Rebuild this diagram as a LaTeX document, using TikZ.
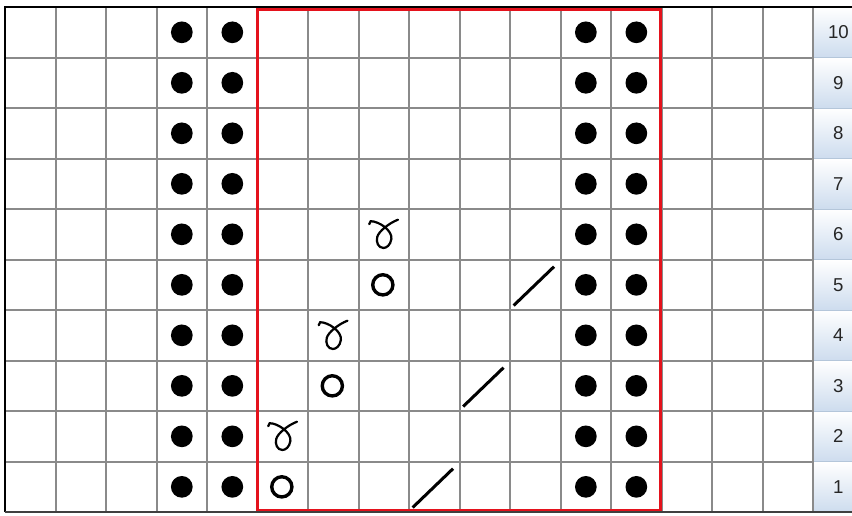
\documentclass[tikz,border=0pt]{standalone}
\usepackage{fontspec}
\newfontfamily\rowfont{Liberation Sans}
\definecolor{gridgray}{RGB}{138,138,138}
\definecolor{chartred}{RGB}{228,18,28}
\definecolor{btnblue}{RGB}{205,220,238}
\definecolor{btnline}{RGB}{180,198,218}

\begin{document}
\begin{tikzpicture}[
    gridline/.style={gridgray, line width=1.1pt},
    yarnover/.style={black, line width=1.9pt},
    twistloop/.style={black, line width=1.25pt, line cap=round},
    k2tog/.style={black, line width=1.7pt},
    rowlabel/.style={font=\rowfont\fontsize{10.5}{12}\selectfont, text=black!85}
]
        \useasboundingbox (-0.1,-0.06) rectangle (16.77,10.14);

        % Row buttons
        \foreach \r in {1,...,10} {
            \shade[top color=white, bottom color=btnblue] (16,\r-1) rectangle (16.77,\r);
            \draw[btnline, line width=0.6pt] (16,\r-1) -- (16.77,\r-1);
            \node[rowlabel] (row\r) at (16.5,\r-0.5) {\r};
        }

        % Grid
        \draw[gridline, step=1] (0,0) grid (16,10);

        % Purl stitches
        \foreach \c in {3.5,4.5,11.5,12.5}
            \foreach \r in {0.5,1.5,...,9.5}
                \fill[black] (\c,\r) circle (0.215);

        % Yarn overs
        \foreach \c/\r in {5.5/0.5, 6.5/2.5, 7.5/4.5}
            \draw[yarnover] (\c-0.02,\r) circle (0.2);

        % Twisted stitches
        \foreach \c/\r in {5.5/1.5, 6.5/3.5, 7.5/5.5}
            \draw[twistloop, shift={(\c,\r)}] (-0.29,0.2) -- (-0.26,0.26)
                .. controls (-0.1,0.26) and (0.17,0.08) .. (0.15,-0.09)
                .. controls (0.13,-0.22) and (0.05,-0.27) .. (-0.01,-0.27)
                .. controls (-0.11,-0.27) and (-0.16,-0.15) .. (-0.13,-0.05)
                .. controls (-0.1,0.06) and (0.1,0.22) .. (0.28,0.29);

        % K2tog
        \foreach \c/\r in {8/0, 9/2, 10/4}
            \draw[k2tog] (\c+0.07,\r+0.09) -- (\c+0.87,\r+0.86);

        % Pattern repeat
        \draw[chartred, line width=1.8pt] (5,0.02) rectangle (12.97,9.96);

        % Frame
        \draw[black, line width=1.6pt] (0,0) -- (0,10) -- (16.77,10);
        \draw[black!75, line width=1.2pt] (0,0) -- (16.77,0);
\end{tikzpicture}
\end{document}
